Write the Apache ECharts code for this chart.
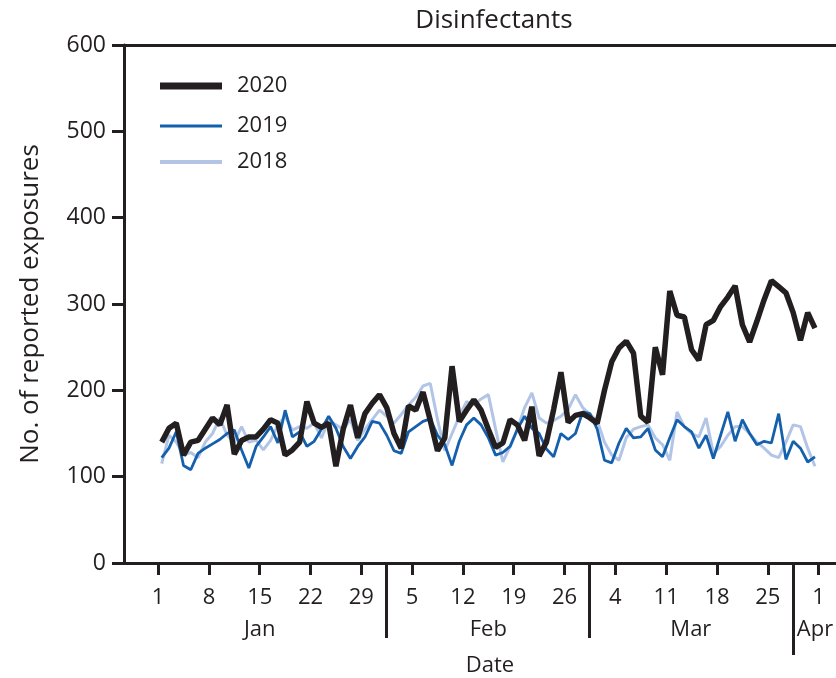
<!DOCTYPE html>
<html>
<head>
<meta charset="utf-8">
<script src="https://cdn.jsdelivr.net/npm/echarts@6/dist/echarts.min.js"></script>
<style>
  html, body { margin: 0; padding: 0; background: #fff; }
  #chart { width: 836px; height: 678px; }
</style>
</head>
<body>
<div id="chart"></div>
<script>
// day index 0 = Jan 1 (2020 calendar, leap year)
const tickDays = [0, 7, 14, 21, 28, 35, 42, 49, 56, 63, 70, 77, 84, 91]
const tickLabels = ['1', '8', '15', '22', '29', '5', '12', '19', '26', '4', '11', '18', '25', '1']
const monthNames = ['Jan', 'Feb', 'Mar', 'Apr']
const monthCenters = [14, 45.5, 73.4, 90.5]
const monthBreaks = [31.4, 59.4]
const lastBreak = [87.5]

const y2020 = [140, 156, 162, 125, 140, 142, 155, 168, 160, 183,
  126, 142, 146, 146, 155, 166, 162, 125, 131, 140,
  187, 162, 157, 162, 112, 155, 183, 145, 173, 185,
  195, 180, 150, 133, 182, 177, 198, 165, 130, 145,
  228, 164, 177, 189, 177, 155, 134, 139, 166, 160,
  142, 181, 124, 140, 178, 221, 163, 171, 173, 168,
  162, 200, 233, 249, 257, 243, 170, 163, 250, 218,
  315, 287, 285, 247, 235, 276, 281, 297, 308, 321,
  276, 256, 280, 305, 327, 320, 313, 290, 258, 290,
  272]

const y2019 = [122, 133, 152, 113, 108, 127, 133, 138, 143, 150,
  154, 131, 110, 135, 146, 158, 139, 177, 146, 152,
  135, 141, 155, 170, 156, 135, 121, 135, 146, 164,
  162, 148, 130, 127, 152, 158, 164, 167, 148, 137,
  113, 141, 160, 168, 160, 145, 125, 128, 135, 155,
  170, 156, 150, 132, 123, 150, 143, 150, 175, 173,
  155, 119, 116, 139, 156, 145, 146, 156, 131, 123,
  145, 166, 158, 152, 133, 148, 121, 148, 175, 141,
  166, 150, 137, 141, 139, 173, 120, 141, 133, 117,
  123]

const y2018 = [115, 148, 140, 125, 128, 122, 140, 150, 168, 148,
  140, 158, 140, 142, 131, 142, 160, 170, 154, 158,
  156, 162, 145, 165, 160, 155, 166, 142, 155, 166,
  177, 170, 162, 172, 183, 192, 205, 208, 166, 130,
  150, 170, 187, 183, 190, 195, 155, 117, 135, 155,
  180, 197, 168, 162, 165, 170, 178, 195, 180, 172,
  165, 140, 125, 119, 145, 155, 158, 160, 145, 137,
  119, 175, 158, 150, 146, 168, 127, 135, 148, 158,
  158, 150, 140, 133, 125, 122, 140, 160, 158, 133,
  112]

const ink = '#231f20'
const font = 'Open Sans'
const xMin = -4.7
const xMax = 93.4

// each day plotted at mid-day
const toPoints = arr => arr.map((v, i) => [i + 0.5, v])

const chart = echarts.init(document.getElementById('chart'))

const baseX = {
  type: 'value',
  min: xMin,
  max: xMax,
  position: 'bottom',
  splitLine: { show: false },
  axisLine: { show: false, onZero: false },
  axisTick: { show: false },
  axisLabel: { show: false }
}

const legendText = { fontFamily: font, fontSize: 22, color: ink, padding: [0, 0, 0, 10] }

const option = {
  animation: false,
  backgroundColor: '#fff',
  textStyle: { fontFamily: font, color: ink },
  title: {
    text: 'Disinfectants',
    left: 489,
    top: 3,
    textAlign: 'center',
    textStyle: { fontFamily: font, fontSize: 26, fontWeight: 'normal', color: ink }
  },
  legend: [
    { data: ['2020'], left: 160, top: 75, padding: 0, icon: 'rect', itemWidth: 62, itemHeight: 7, textStyle: legendText },
    { data: ['2019'], left: 160, top: 115, padding: 0, icon: 'rect', itemWidth: 62, itemHeight: 3, textStyle: legendText },
    { data: ['2018'], left: 160, top: 151, padding: 0, icon: 'rect', itemWidth: 62, itemHeight: 4, textStyle: legendText }
  ],
  grid: { left: 124, right: 0, top: 45, bottom: 115, containLabel: false, outerBoundsMode: 'none' },
  xAxis: [
    {
      ...baseX,
      name: 'Date',
      nameLocation: 'middle',
      nameGap: 92,
      nameTextStyle: { fontFamily: font, fontSize: 22, color: ink, padding: [0, 0, 0, 20] },
      axisLine: { show: true, onZero: false, lineStyle: { color: ink, width: 3 } },
      axisTick: { show: true, customValues: tickDays, length: 12, lineStyle: { color: ink, width: 3 } },
      axisLabel: {
        show: true,
        customValues: tickDays,
        margin: 24,
        fontFamily: font,
        fontSize: 22,
        color: ink,
        formatter: v => tickLabels[tickDays.indexOf(v)]
      }
    },
    {
      ...baseX,
      axisTick: { show: true, customValues: monthBreaks, length: 75, lineStyle: { color: ink, width: 3 } },
      axisLabel: {
        show: true,
        customValues: monthCenters,
        margin: 56,
        fontFamily: font,
        fontSize: 22,
        color: ink,
        formatter: v => monthNames[monthCenters.indexOf(v)]
      }
    },
    {
      ...baseX,
      axisTick: { show: true, customValues: lastBreak, length: 92, lineStyle: { color: ink, width: 3 } }
    },
    {
      ...baseX,
      position: 'top',
      axisLine: { show: true, onZero: false, lineStyle: { color: ink, width: 3 } }
    }
  ],
  yAxis: {
    type: 'value',
    min: 0,
    max: 600,
    interval: 100,
    name: 'No. of reported exposures',
    nameLocation: 'middle',
    nameGap: 80,
    nameTextStyle: { fontFamily: font, fontSize: 26, color: ink },
    splitLine: { show: false },
    axisLine: { show: true, onZero: false, lineStyle: { color: ink, width: 3 } },
    axisTick: { show: true, length: 12, lineStyle: { color: ink, width: 3 } },
    axisLabel: { margin: 18, fontFamily: font, fontSize: 23, color: ink }
  },
  series: [
    {
      name: '2018',
      type: 'line',
      data: toPoints(y2018),
      symbol: 'none',
      lineStyle: { color: '#b3c5e6', width: 3 },
      itemStyle: { color: '#b3c5e6' }
    },
    {
      name: '2019',
      type: 'line',
      data: toPoints(y2019),
      symbol: 'none',
      lineStyle: { color: '#1560ad', width: 2.8 },
      itemStyle: { color: '#1560ad' }
    },
    {
      name: '2020',
      type: 'line',
      data: toPoints(y2020),
      symbol: 'none',
      lineStyle: { color: ink, width: 5.5 },
      itemStyle: { color: ink }
    }
  ]
}

chart.setOption(option)
</script>
</body>
</html>
